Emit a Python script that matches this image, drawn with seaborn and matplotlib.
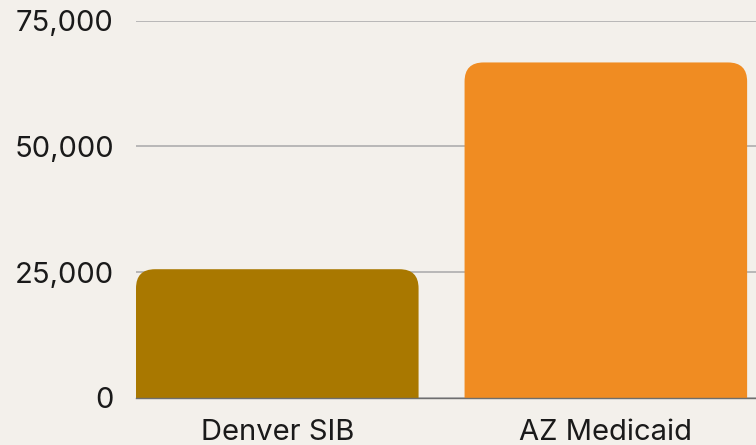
import matplotlib
matplotlib.use("Agg")
import matplotlib.pyplot as plt
import seaborn as sns
import pandas as pd
from matplotlib.patches import FancyBboxPatch

categories = ["Denver SIB", "AZ Medicaid"]
values = [25600, 66700]
colors = ["#A97800", "#F08C22"]
yticks = [0, 25000, 50000, 75000]
ytick_labels = ["0", "25,000", "50,000", "75,000"]

BG = "#F3F0EB"
sns.set_theme(style="white")
plt.rcParams["font.family"] = ["Inter", "DejaVu Sans"]

fig = plt.figure(figsize=(7.56, 4.45), dpi=100, facecolor=BG)
ax = fig.add_axes([136 / 756, 1 - 398 / 445, 1 - 136 / 756, (398 - 20.7) / 445])
ax.set_facecolor(BG)

df = pd.DataFrame({"cat": categories, "val": values})
sns.barplot(data=df, x="cat", y="val", hue="cat", palette=colors, legend=False,
            width=0.86, saturation=1, ax=ax, zorder=3)

ax.set_xlim(-0.43, 1.457)
ax.set_ylim(0, 75000)

# Replace bars with rounded-top versions (bottom corners hidden below axis)
fig.canvas.draw()
bbox = ax.get_window_extent()
x_per_px = (ax.get_xlim()[1] - ax.get_xlim()[0]) / bbox.width
y_per_px = (ax.get_ylim()[1] - ax.get_ylim()[0]) / bbox.height
aspect = y_per_px / x_per_px
r_px = 19
r = r_px * x_per_px
for p in list(ax.patches):
    x0, w, h = p.get_x(), p.get_width(), p.get_height()
    fc = p.get_facecolor()
    p.remove()
    ext = 40 * y_per_px
    fb = FancyBboxPatch((x0, -ext), w, h + ext,
                        boxstyle=f"round,pad=0,rounding_size={r}",
                        mutation_aspect=aspect, facecolor=fc, edgecolor="none",
                        zorder=3, clip_on=True)
    ax.add_patch(fb)

ax.set_yticks(yticks)
ax.set_yticklabels(ytick_labels)
ax.grid(axis="y", color="#B3B3B3", linewidth=1.3, zorder=0)
ax.set_axisbelow(True)
for s in ["left", "right", "top"]:
    ax.spines[s].set_visible(False)
ax.spines["bottom"].set_color("#6E6E6E")
ax.spines["bottom"].set_linewidth(1.0)
ax.spines["bottom"].set_zorder(4)
ax.tick_params(axis="y", length=0, pad=16, labelsize=21, labelcolor="#1A1A1A")
ax.tick_params(axis="x", length=0, pad=15, labelsize=21, labelcolor="#1A1A1A")
ax.set_xlabel("")
ax.set_ylabel("")

fig.savefig("out.png", dpi=100, facecolor=BG)
